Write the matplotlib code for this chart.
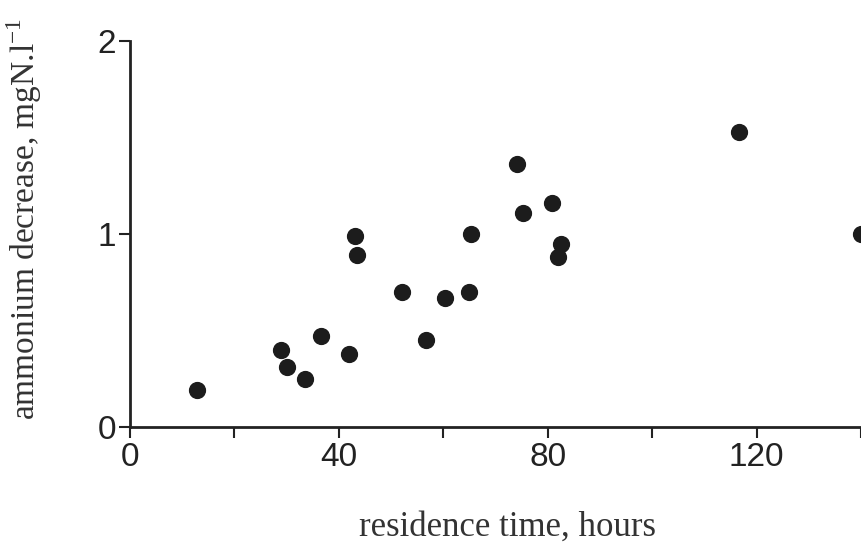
import matplotlib.pyplot as plt

# residence time (hours) and ammonium decrease (mgN/l)
residence_time = [12.8, 28.9, 30.1, 33.5, 36.6, 42.0, 43.0, 43.4, 52.0, 56.7,
                  60.3, 64.9, 65.3, 74.1, 75.2, 80.8, 81.9, 82.5, 116.7, 140.0]
ammonium_decrease = [0.19, 0.40, 0.31, 0.25, 0.47, 0.38, 0.99, 0.89, 0.70, 0.45,
                     0.67, 0.70, 1.00, 1.36, 1.11, 1.16, 0.88, 0.95, 1.53, 1.00]

x_ticks = [0, 20, 40, 60, 80, 100, 120, 140]
x_tick_labels = ['0', '', '40', '', '80', '', '120', '']
y_ticks = [0, 1, 2]
y_tick_labels = ['0', '1', '2']

fig = plt.figure(figsize=(8.61, 5.45), dpi=100)
ax = fig.add_axes([0.151, 0.2165, 0.849, 0.7085])

ax.scatter(residence_time, ammonium_decrease, s=130, color='#1c1c1c', zorder=3)

ax.set_xlim(0, 140)
ax.set_ylim(0, 2)
ax.set_xticks(x_ticks)
ax.set_xticklabels(x_tick_labels)
ax.set_yticks(y_ticks)
ax.set_yticklabels(y_tick_labels)

for side in ['top', 'right']:
    ax.spines[side].set_visible(False)
for side in ['left', 'bottom']:
    ax.spines[side].set_linewidth(2)
    ax.spines[side].set_color('#222222')

ax.tick_params(axis='both', direction='out', length=8, width=1.5, colors='#222222',
               labelsize=24)
ax.tick_params(axis='x', pad=3)
ax.tick_params(axis='y', pad=2)
for lbl in ax.get_xticklabels() + ax.get_yticklabels():
    lbl.set_family('Liberation Sans')

ax.set_xlabel('residence time, hours', family='Liberation Serif', fontsize=25,
              color='#333333')
ax.xaxis.set_label_coords(0.517, -0.218)
ax.set_ylabel('ammonium decrease, mgN.l$^{\\mathregular{-1}}$', family='Liberation Serif',
              fontsize=24, color='#333333')
ax.yaxis.set_label_coords(-0.118, 0.54)

fig.savefig('out.png', dpi=100, facecolor='white')
